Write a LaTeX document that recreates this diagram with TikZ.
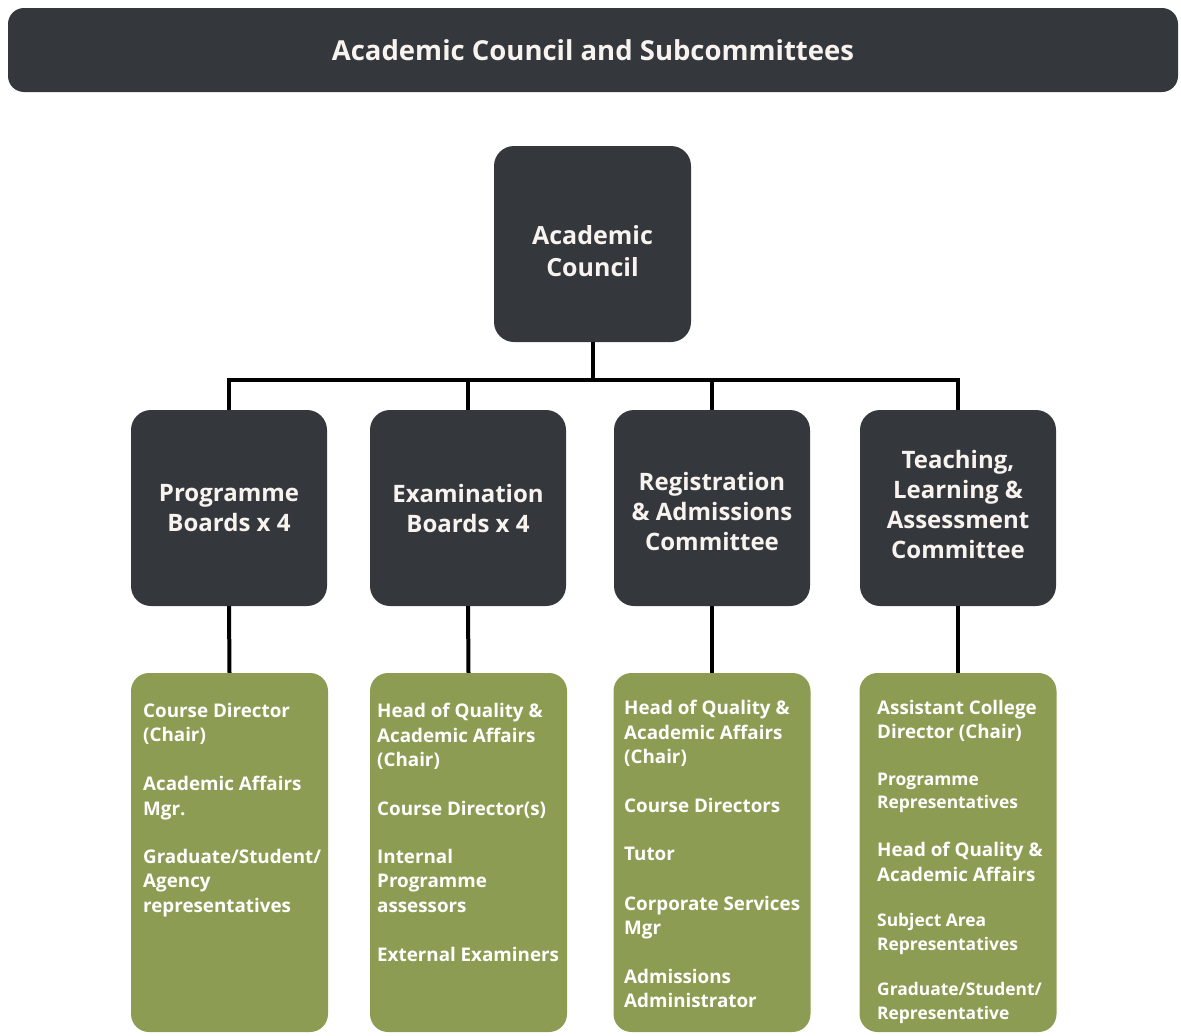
\documentclass[tikz,border=0pt]{standalone}
\usepackage{fontspec}
\setmainfont{Open Sans}
\begin{document}
\begin{tikzpicture}[x=1pt,y=-1pt,
  dbox/.style={fill=darkc, rounded corners=20pt, minimum width=196pt, minimum height=196pt, inner sep=0pt},
  dtext/.style={text=textc, align=center, inner sep=0pt, font=\bfseries\fontsize{24}{30}\selectfont},
  gbox/.style={fill=greenc, rounded corners=18pt, minimum width=197pt, minimum height=359pt, inner sep=0pt},
  gtext/.style={anchor=north west, align=left, inner sep=0pt, text=white, font=\bfseries\fontsize{18.8}{24.5}\selectfont},
  gsmall/.style={gtext, font=\bfseries\fontsize{17.4}{23.3}\selectfont},
  conn/.style={line width=4pt, draw=black, line join=miter}]
\definecolor{darkc}{HTML}{34373C}
\definecolor{greenc}{HTML}{8C9D53}
\definecolor{textc}{HTML}{F8F3EE}
\useasboundingbox (0,0) rectangle (1181,1036);

% title bar
\node[fill=darkc, rounded corners=16pt, minimum width=1170pt, minimum height=84pt, inner sep=0pt] (title) at (593,50) {};
\node[dtext, font=\bfseries\fontsize{27.5}{34}\selectfont] (titlet) at (title.center) {Academic Council and Subcommittees};

% academic council
\node[dbox, minimum width=197pt] (ac) at (592.5,244) {};
\node[dtext, font=\bfseries\fontsize{25}{32}\selectfont] (act) at (592.5,251) {Academic\\Council};

% level 2
\node[dbox] (pb) at (229,508) {};
\node[dbox] (eb) at (468,508) {};
\node[dbox] (rc) at (712,508) {};
\node[dbox] (tl) at (958,508) {};
\node[dtext] (pbt) at (229,508) {Programme\\Boards x 4};
\node[dtext] (ebt) at (468,508) {Examination\\Boards x 4};
\node[dtext] (rct) at (712,511) {Registration\\\& Admissions\\Committee};
\node[dtext] (tlt) at (958,504) {Teaching,\\Learning \&\\Assessment\\Committee};

% green boxes
\node[gbox] (pg) at (229.5,852.5) {};
\node[gbox] (eg) at (468.5,852.5) {};
\node[gbox] (rg) at (712,852.5) {};
\node[gbox] (tg) at (958,852.5) {};

% connectors
\coordinate (bus) at (0,380);
\draw[conn] (ac.south) -- (ac.south |- bus);
\draw[conn] (pb.north) -- (pb.north |- bus) -- (tl.north |- bus) -- (tl.north);
\draw[conn] (eb.north |- bus) -- (eb.north);
\draw[conn] (rc.north |- bus) -- (rc.north);
\draw[conn] (pb.south) -- (pg.north);
\draw[conn] (eb.south) -- (eg.north);
\draw[conn] (rc.south) -- (rg.north);
\draw[conn] (tl.south) -- (tg.north);

% programme boards members
\node[gtext] (p1) at (143,703) {Course Director\\(Chair)};
\node[gtext] (p2) at (143,776) {Academic Affairs\\Mgr.};
\node[gtext] (p3) at (143,849) {Graduate/Student/\\Agency\\representatives};

% examination boards members
\node[gtext] (e1) at (377,703) {Head of Quality \&\\Academic Affairs\\(Chair)};
\node[gtext] (e2) at (377,801) {Course Director(s)};
\node[gtext] (e3) at (377,849) {Internal\\Programme\\assessors};
\node[gtext] (e4) at (377,947) {External Examiners};

% registration members
\node[gtext] (r1) at (624,700) {Head of Quality \&\\Academic Affairs\\(Chair)};
\node[gtext] (r2) at (624,798) {Course Directors};
\node[gtext] (r3) at (624,847) {Tutor};
\node[gtext] (r4) at (624,896) {Corporate Services\\Mgr};
\node[gtext] (r5) at (624,969) {Admissions\\Administrator};

% teaching members
\node[gtext] (t1) at (877,700) {Assistant College\\Director (Chair)};
\node[gsmall] (t2) at (877,772.5) {Programme\\Representatives};
\node[gtext] (t3) at (877,842) {Head of Quality \&\\Academic Affairs};
\node[gsmall] (t4) at (877,913.5) {Subject Area\\Representatives};
\node[gsmall] (t5) at (877,982.5) {Graduate/Student/\\Representative};
\end{tikzpicture}
\end{document}
